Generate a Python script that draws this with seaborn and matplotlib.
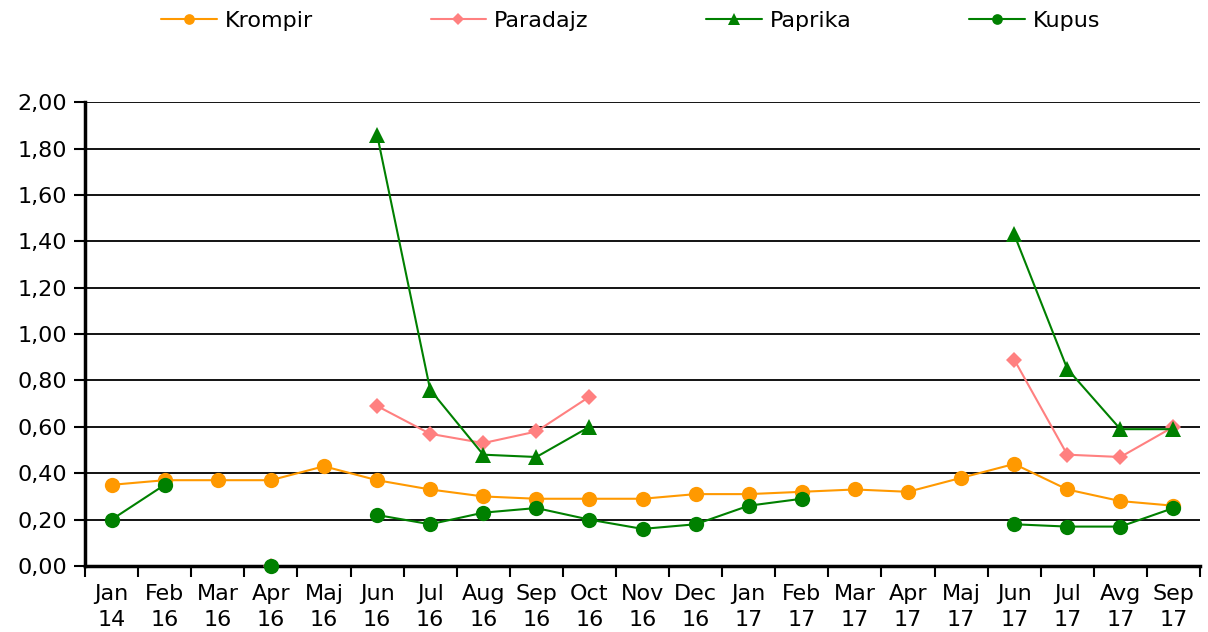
import numpy as np
import pandas as pd
import matplotlib
matplotlib.use("Agg")
import matplotlib.pyplot as plt
from matplotlib.lines import Line2D
from matplotlib.ticker import FuncFormatter, FixedLocator
import seaborn as sns

months = ['Jan\n14', 'Feb\n16', 'Mar\n16', 'Apr\n16', 'Maj\n16', 'Jun\n16', 'Jul\n16',
          'Aug\n16', 'Sep\n16', 'Oct\n16', 'Nov\n16', 'Dec\n16', 'Jan\n17', 'Feb\n17',
          'Mar\n17', 'Apr\n17', 'Maj\n17', 'Jun\n17', 'Jul\n17', 'Avg\n17', 'Sep\n17']
nan = np.nan
krompir = [0.35, 0.37, 0.37, 0.37, 0.43, 0.37, 0.33, 0.30, 0.29, 0.29, 0.29,
           0.31, 0.31, 0.32, 0.33, 0.32, 0.38, 0.44, 0.33, 0.28, 0.26]
paradajz = [nan, nan, nan, 0.00, nan, 0.69, 0.57, 0.53, 0.58, 0.73, nan,
            nan, nan, nan, nan, nan, nan, 0.89, 0.48, 0.47, 0.60]
paprika = [nan, nan, nan, nan, nan, 1.86, 0.76, 0.48, 0.47, 0.60, nan,
           nan, nan, nan, nan, nan, nan, 1.43, 0.85, 0.59, 0.59]
kupus = [0.20, 0.35, nan, 0.00, nan, 0.22, 0.18, 0.23, 0.25, 0.20, 0.16,
         0.18, 0.26, 0.29, nan, nan, nan, 0.18, 0.17, 0.17, 0.25]

series = {'Krompir': krompir, 'Paradajz': paradajz, 'Paprika': paprika, 'Kupus': kupus}
colors = {'Krompir': '#FF9900', 'Paradajz': '#FF8080', 'Paprika': '#008000', 'Kupus': '#008000'}
markers = {'Krompir': 'o', 'Paradajz': 'D', 'Paprika': '^', 'Kupus': 'o'}
msizes = {'Krompir': 11, 'Paradajz': 8.5, 'Paprika': 12, 'Kupus': 11}

sns.set_style("white")
plt.rcParams['font.family'] = ['DejaVu Sans']
plt.rcParams['text.color'] = 'black'
plt.rcParams['xtick.color'] = 'black'
plt.rcParams['ytick.color'] = 'black'

fig = plt.figure(figsize=(12.08, 6.32), dpi=100)
ax = fig.add_axes([0.0704, 0.1044, 0.923, 0.734])

for name, vals in series.items():
    df = pd.DataFrame({'pos': np.arange(len(months)), 'val': vals})
    df['seg'] = df['val'].isna().cumsum()
    df = df.dropna()
    sns.lineplot(data=df, x='pos', y='val', units='seg', estimator=None, ax=ax,
                 color=colors[name], lw=1.5, marker=markers[name], markersize=msizes[name],
                 markeredgewidth=0, zorder=3, legend=False, clip_on=False)

ax.set_xlim(-0.5, len(months) - 0.5)
ax.set_ylim(0, 2.0)
ax.set_yticks(np.arange(0, 2.01, 0.2))
ax.yaxis.set_major_formatter(FuncFormatter(lambda v, p: f"{v:.2f}".replace('.', ',')))
ax.set_xticks(np.arange(len(months)))
ax.set_xticklabels(months, fontsize=16, linespacing=1.4)
ax.xaxis.set_minor_locator(FixedLocator(np.arange(-0.5, len(months), 1)))
ax.tick_params(axis='x', which='major', bottom=True, length=0, pad=13, labelcolor='black')
ax.tick_params(axis='x', which='minor', bottom=True, length=8, width=1.5, direction='out', color='black')
ax.tick_params(axis='y', left=True, labelsize=16, length=8, width=1.5, pad=5, direction='out',
               color='black', labelcolor='black')
ax.grid(axis='y', color='black', lw=1.3, zorder=1)
ax.set_axisbelow(True)
ax.set_xlabel('')
ax.set_ylabel('')
for s in ['top', 'right']:
    ax.spines[s].set_visible(False)
ax.spines['left'].set_linewidth(2.5)
ax.spines['bottom'].set_linewidth(2.5)
ax.spines['left'].set_color('black')
ax.spines['bottom'].set_color('black')

handles = [Line2D([0], [0], color=colors[n], lw=1.5, marker=markers[n],
                  markersize=msizes[n] * 0.7, markeredgewidth=0) for n in series]
fig.legend(handles, list(series.keys()), loc='upper center', bbox_to_anchor=(0.522, 1.015),
           ncol=4, frameon=False, fontsize=16, handlelength=2.5, columnspacing=5.3,
           handletextpad=0.35, labelcolor='black')

fig.savefig("out.png", dpi=100)
